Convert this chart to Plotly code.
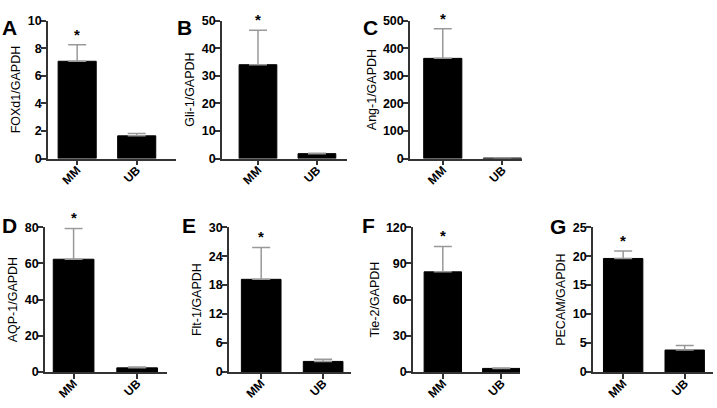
import plotly.graph_objects as go

categories = ["MM", "UB"]

foxd1 = [7.05, 1.65]
foxd1_err = [1.2, 0.17]
gli1 = [34.0, 1.8]
gli1_err = [12.5, 0.15]
ang1 = [363, 2]
ang1_err = [107, 0.5]
aqp1 = [62.3, 2.3]
aqp1_err = [17.0, 0.5]
flt1 = [19.2, 2.2]
flt1_err = [6.6, 0.45]
tie2 = [83, 3.0]
tie2_err = [21, 0.3]
pecam = [19.6, 3.8]
pecam_err = [1.3, 0.8]

ytitles = ["FOXd1/GAPDH", "Gli-1/GAPDH", "Ang-1/GAPDH", "AQP-1/GAPDH",
           "Flt-1/GAPDH", "Tie-2/GAPDH", "PECAM/GAPDH"]
letters = ["A", "B", "C", "D", "E", "F", "G"]
yticks = [
    [0, 2, 4, 6, 8, 10],
    [0, 10, 20, 30, 40, 50],
    [0, 100, 200, 300, 400, 500],
    [0, 20, 40, 60, 80],
    [0, 6, 12, 18, 24, 30],
    [0, 30, 60, 90, 120],
    [0, 5, 10, 15, 20, 25],
]
values = [foxd1, gli1, ang1, aqp1, flt1, tie2, pecam]
errors = [foxd1_err, gli1_err, ang1_err, aqp1_err, flt1_err, tie2_err, pecam_err]

W, H = 717, 408
# layout in pixels: (x0, x1, ytop, ybottom, xrange_lo, xrange_hi)
panels = [
    (48, 176, 14, 157, -0.49, 1.66),
    (222, 347, 14, 157, -0.61, 1.51),
    (410, 522, 14, 157, -0.55, 1.33),
    (45, 167, 228, 378, -0.45, 1.47),
    (229, 351, 228, 378, -0.52, 1.45),
    (413, 520, 228, 378, -0.51, 1.32),
    (593, 713, 228, 378, -0.49, 1.46),
]
letter_pos = [(0, 7), (175, 7), (361, 7), (0, 212), (180, 212), (360, 212), (548, 213)]

fig = go.Figure()
font_fam = "Liberation Sans, Arial, sans-serif"

for i in range(7):
    x0, x1, yt, yb, lo, hi = panels[i]
    ax = "" if i == 0 else str(i + 1)
    fig.add_trace(go.Bar(
        x=categories, y=values[i],
        marker=dict(color="black", line=dict(color="black", width=1)),
        width=0.64,
        error_y=dict(type="data", array=errors[i], arrayminus=[0, 0], symmetric=False,
                     color="#999999", thickness=1.5, width=9),
        xaxis="x" + ax, yaxis="y" + ax, showlegend=False, hoverinfo="skip",
    ))
    fig.layout["xaxis" + ax] = dict(
        domain=[x0 / W, x1 / W], anchor="y" + ax, type="category",
        range=[lo, hi], showline=True, linecolor="#333", linewidth=1.5,
        ticks="outside", ticklen=5, tickcolor="#333", tickwidth=1.5,
        tickangle=-45, showgrid=False, zeroline=False, ticklabelstandoff=-7,
        tickfont=dict(family=font_fam, size=12, color="black", weight="bold"),
    )
    fig.layout["yaxis" + ax] = dict(
        domain=[1 - yb / H, 1 - yt / H], anchor="x" + ax,
        range=[0, yticks[i][-1]], tickvals=yticks[i],
        showline=True, linecolor="#333", linewidth=1.5,
        ticks="outside", ticklen=5, tickcolor="#333", tickwidth=1.5,
        showgrid=False, zeroline=False, ticklabelstandoff=-3,
        tickfont=dict(family=font_fam, size=12.5, color="black", weight="bold"),
        title=dict(text=ytitles[i], font=dict(family=font_fam, size=12.5, color="black"),
                   standoff=4),
    )
    fig.add_annotation(
        x=categories[0], y=values[i][0] + errors[i][0],
        xref="x" + ax, yref="y" + ax, text="<b>*</b>", showarrow=False,
        yanchor="bottom", yshift=0,
        font=dict(family=font_fam, size=15, color="black"),
    )
    lx, ly = letter_pos[i]
    fig.add_annotation(
        x=lx / W, y=1 - ly / H, xref="paper", yref="paper",
        text="<b>" + letters[i] + "</b>", showarrow=False,
        xanchor="left", yanchor="top",
        font=dict(family=font_fam, size=21, color="black"),
    )

fig.update_layout(
    width=W, height=H, margin=dict(l=0, r=0, t=0, b=0),
    plot_bgcolor="white", paper_bgcolor="white", bargap=0.36,
)
fig.write_html(
    "out.html",
    config={"displayModeBar": False},
    post_script="document.body.style.margin='0';document.body.style.overflow='hidden';",
)
